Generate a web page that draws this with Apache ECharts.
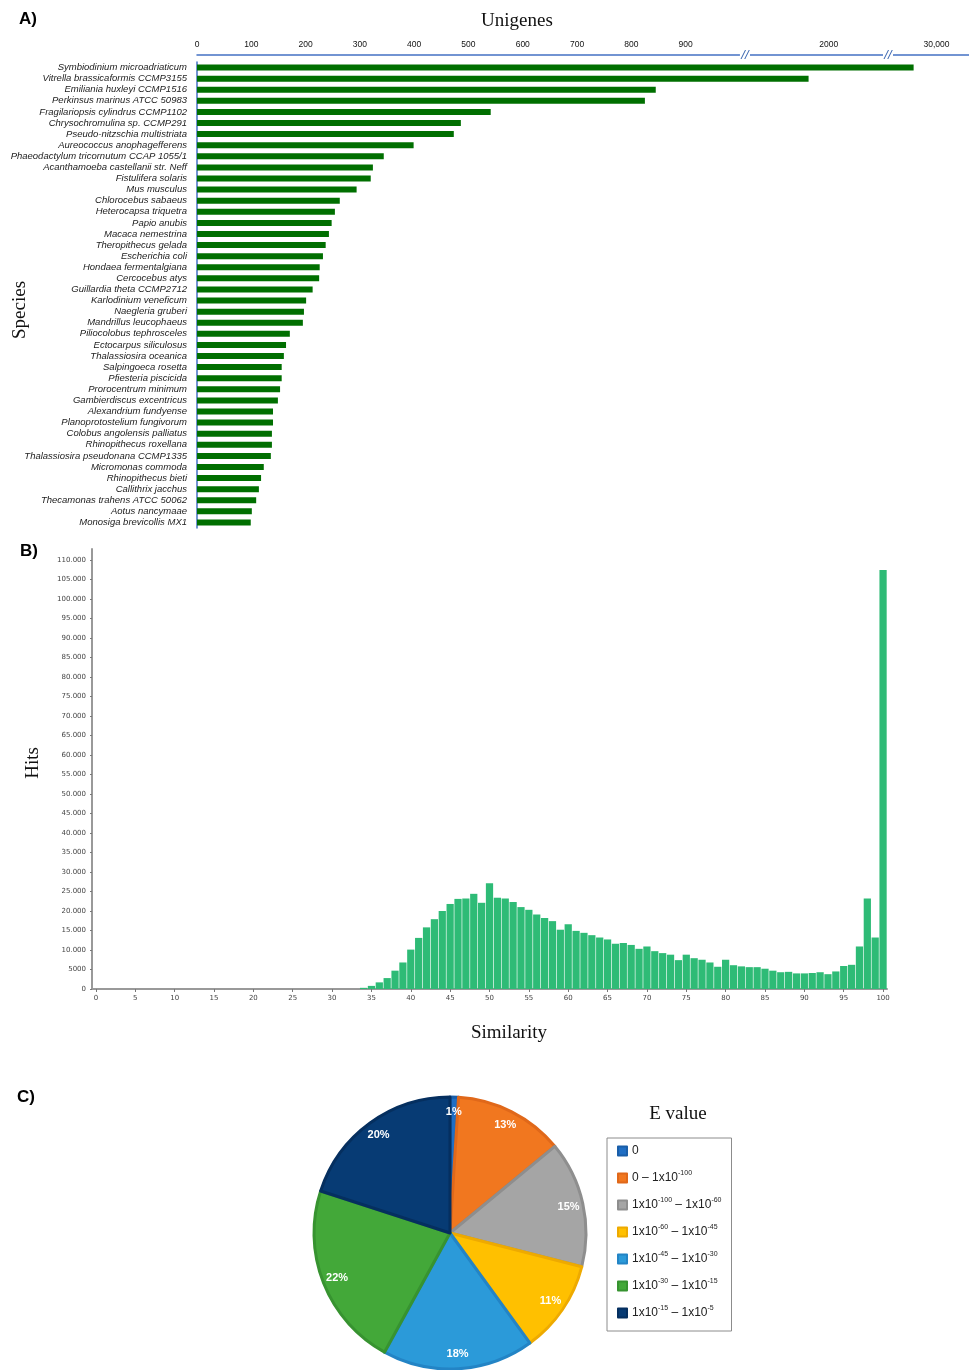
<!DOCTYPE html>
<html><head><meta charset="utf-8">
<script src="https://cdn.jsdelivr.net/npm/echarts@6.0.0/dist/echarts.min.js"></script>
<style>html,body{margin:0;padding:0;background:#fff}#c{width:969px;height:1370px}</style>
</head><body><div id="c"></div>
<script>
// ---- Panel A data ----
const species = [
 'Symbiodinium microadriaticum','Vitrella brassicaformis CCMP3155','Emiliania huxleyi CCMP1516',
 'Perkinsus marinus ATCC 50983','Fragilariopsis cylindrus CCMP1102','Chrysochromulina sp. CCMP291',
 'Pseudo-nitzschia multistriata','Aureococcus anophagefferens','Phaeodactylum tricornutum CCAP 1055/1',
 'Acanthamoeba castellanii str. Neff','Fistulifera solaris','Mus musculus','Chlorocebus sabaeus',
 'Heterocapsa triquetra','Papio anubis','Macaca nemestrina','Theropithecus gelada','Escherichia coli',
 'Hondaea fermentalgiana','Cercocebus atys','Guillardia theta CCMP2712','Karlodinium veneficum',
 'Naegleria gruberi','Mandrillus leucophaeus','Piliocolobus tephrosceles','Ectocarpus siliculosus',
 'Thalassiosira oceanica','Salpingoeca rosetta','Pfiesteria piscicida','Prorocentrum minimum',
 'Gambierdiscus excentricus','Alexandrium fundyense','Planoprotostelium fungivorum',
 'Colobus angolensis palliatus','Rhinopithecus roxellana','Thalassiosira pseudonana CCMP1335',
 'Micromonas commoda','Rhinopithecus bieti','Callithrix jacchus','Thecamonas trahens ATCC 50062',
 'Aotus nancymaae','Monosiga brevicollis MX1'
];
const unigenes = [29958, 1963, 845, 825, 541, 486, 473, 399, 344, 324, 320, 294, 263, 254, 248, 243,
 237, 232, 226, 225, 213, 201, 197, 195, 171, 164, 160, 156, 156, 153, 149, 140, 140, 138, 138, 136,
 123, 118, 114, 109, 101, 99];
const unigeneTicks = [0, 100, 200, 300, 400, 500, 600, 700, 800, 900, 2000, 30000];
const axisBreaks = [{start: 1000, end: 1855}, {start: 2100, end: 29920}];

// ---- Panel B data ----
const similarity = ['0','1','2','3','4','5','6','7','8','9','10','11','12','13','14','15','16','17','18','19',
 '20','21','22','23','24','25','26','27','28','29','30','31','32','33','34','35','36','37','38','39',
 '40','41','42','43','44','45','46','47','48','49','50','51','52','53','54','55','56','57','58','59',
 '60','61','62','63','64','65','66','67','68','69','70','71','72','73','74','75','76','77','78','79',
 '80','81','82','83','84','85','86','87','88','89','90','91','92','93','94','95','96','97','98','99','100'];
const hits = [0,0,0,0,0,0,0,0,0,0, 0,0,0,0,0,0,0,0,0,0, 0,0,0,0,0,0,0,0,0,0, 0,0,0,0,
 300, 800, 1700, 2800, 4700, 6800,
 10100, 13100, 15800, 17900, 20000, 21800, 23100, 23200, 24400, 22100,
 27100, 23400, 23200, 22300, 21000, 20300, 19100, 18200, 17400, 15200,
 16600, 14900, 14400, 13800, 13200, 12700, 11600, 11800, 11300, 10300,
 10900, 9700, 9200, 8800, 7400, 8800, 7900, 7500, 6800, 5700,
 7500, 6100, 5800, 5600, 5600, 5200, 4700, 4300, 4400, 4000,
 4000, 4100, 4300, 3800, 4500, 5900, 6200, 10900, 23200, 13200,
 107400];

// ---- Panel C data ----
const eValueNames = ['0', '0 \u2013 1x10^-100', '1x10^-100 \u2013 1x10^-60', '1x10^-60 \u2013 1x10^-45',
 '1x10^-45 \u2013 1x10^-30', '1x10^-30 \u2013 1x10^-15', '1x10^-15 \u2013 1x10^-5'];
const eValuePct = [1, 13, 15, 11, 18, 22, 20];
const eColors = ['#1f6ec4', '#f1771f', '#a5a5a5', '#ffc000', '#2b9ad9', '#43a839', '#073b74'];
const eBorders = ['#1a5ea8', '#e0681a', '#8e8e8e', '#eeaa00', '#2384c5', '#379330', '#052f5f'];

const chart = echarts.init(document.getElementById('c'), null, {renderer: 'canvas'});
const serif = 'Liberation Serif';
const sans = 'Liberation Sans';

const option = {
  animation: false,
  backgroundColor: '#fff',
  grid: [
    {left: 197, top: 62, width: 772, height: 466, outerBoundsMode: 'none'},
    {left: 92, top: 549, width: 795, height: 440, outerBoundsMode: 'none'}
  ],
  xAxis: [
    {
      gridIndex: 0, type: 'value', position: 'top', offset: 7, min: 0, max: 30060,
      breaks: axisBreaks.map(b => ({start: b.start, end: b.end, gap: '1.3%'})),
      breakArea: {show: false},
      axisLine: {show: true, lineStyle: {color: '#4472c4', width: 1.5}},
      axisTick: {show: false},
      splitLine: {show: false},
      axisLabel: {
        customValues: unigeneTicks, fontSize: 8.5, color: '#111', fontFamily: sans, margin: 6,
        formatter: v => v === 30000 ? '30,000' : String(v)
      }
    },
    {
      gridIndex: 1, type: 'category', data: similarity, boundaryGap: true,
      axisLine: {show: true, lineStyle: {color: '#999', width: 2}},
      axisTick: {show: true, interval: 4, alignWithLabel: true, length: 3, lineStyle: {color: '#777'}},
      axisLabel: {interval: 4, fontSize: 7, color: '#444', fontFamily: 'DejaVu Sans', margin: 6},
      splitLine: {show: false}
    }
  ],
  yAxis: [
    {
      gridIndex: 0, type: 'category', data: species, inverse: true,
      axisLine: {show: true, lineStyle: {color: '#4472c4', width: 1.5}},
      axisTick: {show: false},
      axisLabel: {fontSize: 9.5, fontStyle: 'italic', color: '#222', fontFamily: sans, margin: 10, interval: 0}
    },
    {
      gridIndex: 1, type: 'value', min: 0, max: 112800, interval: 5000,
      axisLine: {show: true, lineStyle: {color: '#999', width: 2}},
      axisTick: {show: true, length: 2, lineStyle: {color: '#777'}},
      splitLine: {show: false},
      axisLabel: {
        fontSize: 7, color: '#444', fontFamily: 'DejaVu Sans', margin: 6, showMaxLabel: false,
        formatter: v => v >= 10000 ? (v / 1000) + '.000' : String(v)
      }
    }
  ],
  legend: {
    orient: 'vertical', left: 607, top: 1138, data: eValueNames,
    icon: 'rect', itemWidth: 9, itemHeight: 9, itemGap: 11,
    borderColor: '#8c8c8c', borderWidth: 1, padding: [5, 10, 10, 10],
    selectedMode: false,
    textStyle: {
      fontSize: 12, color: '#222', fontFamily: sans, lineHeight: 16,
      rich: {s: {fontSize: 7, lineHeight: 7, verticalAlign: 'top', color: '#222', fontFamily: sans}}
    },
    formatter: n => n.replace(/\^(-?\d+)/g, '{s|$1}')
  },
  series: [
    {
      type: 'bar', xAxisIndex: 0, yAxisIndex: 0, data: unigenes, barWidth: 6,
      itemStyle: {color: '#006f00'}, silent: true
    },
    {
      type: 'bar', xAxisIndex: 1, yAxisIndex: 1, data: hits, barCategoryGap: '8%',
      itemStyle: {color: '#2ebb76'}, silent: true
    },
    {
      type: 'pie', center: [450, 1233], radius: 136, startAngle: 90, clockwise: true,
      data: eValueNames.map((n, i) => ({name: n, value: eValuePct[i],
        itemStyle: {color: eColors[i], borderColor: eBorders[i], borderWidth: 3}})),
      label: {show: false}, labelLine: {show: false}, silent: true
    },
    {
      type: 'pie', center: [450, 1233], radius: [0, 237], startAngle: 90, clockwise: true,
      data: eValueNames.map((n, i) => ({name: n, value: eValuePct[i]})),
      itemStyle: {color: 'rgba(0,0,0,0)', borderWidth: 0},
      label: {show: true, position: 'inside', formatter: '{c}%', color: '#fff', fontWeight: 'bold',
        fontSize: 11, fontFamily: sans},
      labelLine: {show: false}, silent: true, emphasis: {disabled: true}
    }
  ],
  graphic: [
    {type: 'text', left: 19, top: 11, style: {text: 'A)', fontSize: 17, fontWeight: 'bold', fontFamily: sans, fill: '#000'}},
    {type: 'text', left: 20, top: 543, style: {text: 'B)', fontSize: 17, fontWeight: 'bold', fontFamily: sans, fill: '#000'}},
    {type: 'text', left: 17, top: 1089, style: {text: 'C)', fontSize: 17, fontWeight: 'bold', fontFamily: sans, fill: '#000'}},
    {type: 'text', x: 517, y: 21, style: {text: 'Unigenes', fontSize: 19, fontFamily: serif, fill: '#111', align: 'center', verticalAlign: 'middle'}},
    {type: 'text', x: 20, y: 310, rotation: Math.PI / 2, style: {text: 'Species', fontSize: 19, fontFamily: serif, fill: '#111', align: 'center', verticalAlign: 'middle'}},
    {type: 'text', x: 33, y: 763, rotation: Math.PI / 2, style: {text: 'Hits', fontSize: 19, fontFamily: serif, fill: '#111', align: 'center', verticalAlign: 'middle'}},
    {type: 'text', x: 509, y: 1033, style: {text: 'Similarity', fontSize: 19, fontFamily: serif, fill: '#111', align: 'center', verticalAlign: 'middle'}},
    {type: 'text', x: 678, y: 1114, style: {text: 'E value', fontSize: 19, fontFamily: serif, fill: '#111', align: 'center', verticalAlign: 'middle'}}
  ]
};
chart.setOption(option);

// break markers "//" on the top axis, placed via the axis scale
const marks = axisBreaks.map((b, i) => {
  const p1 = chart.convertToPixel({xAxisIndex: 0}, b.start);
  const p2 = chart.convertToPixel({xAxisIndex: 0}, b.end);
  const px = (p1 + p2) / 2;
  return [
    {type: 'rect', id: 'gap' + i, shape: {x: px - 5, y: 52, width: 10, height: 6}, style: {fill: '#fff'}, z: 100},
    {type: 'text', id: 'br' + i, x: px, y: 55, z: 101,
      style: {text: '//', fontSize: 13, fontStyle: 'italic', fontFamily: sans, fill: '#3a66b0', align: 'center', verticalAlign: 'middle'}}
  ];
}).flat();
chart.setOption({graphic: marks});
</script>
</body></html>
